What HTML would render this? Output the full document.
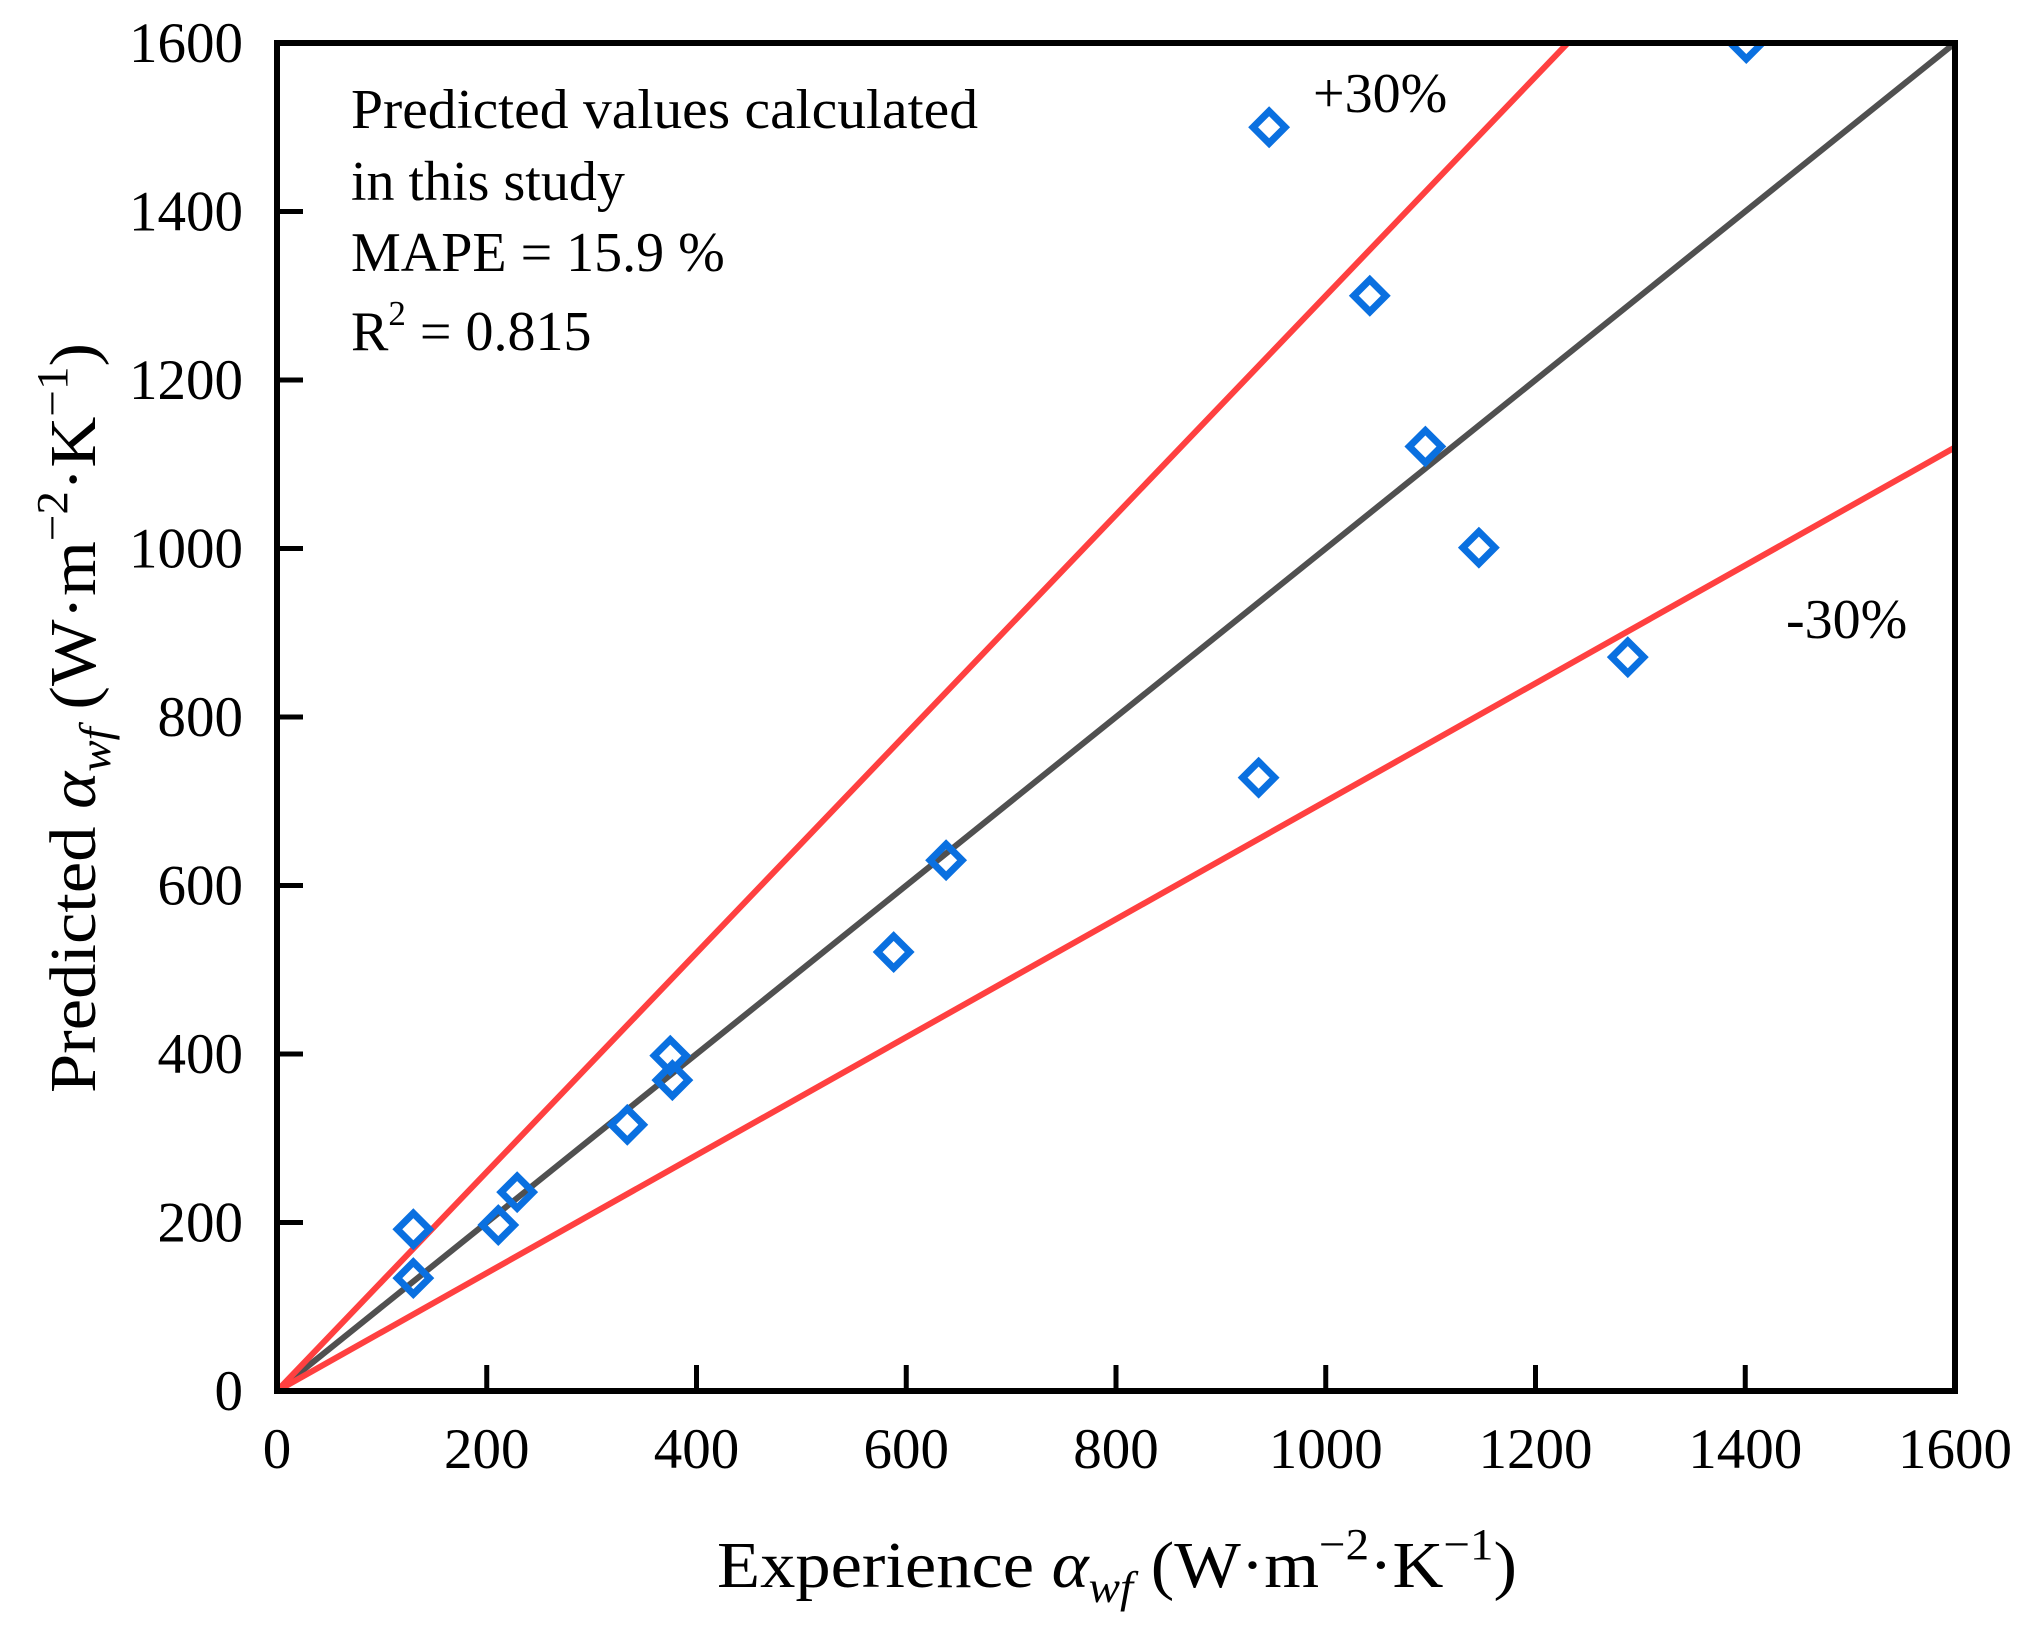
<!DOCTYPE html>
<html><head><meta charset="utf-8"><style>
html,body{margin:0;padding:0;background:#fff}
svg{display:block}
text{font-family:"Liberation Serif",serif;fill:#000}
</style></head><body>
<svg id="chart" width="2029" height="1633" viewBox="0 0 2029 1633" xmlns="http://www.w3.org/2000/svg">
<g id="lines"></g>
<g id="points"></g>
<g id="axes"></g>
<text x="351" y="128" font-size="56" textLength="627" lengthAdjust="spacingAndGlyphs">Predicted values calculated</text>
<text x="351" y="200" font-size="56">in this study</text>
<text x="351" y="271" font-size="56">MAPE = 15.9 %</text>
<text x="351" y="350" font-size="56">R<tspan font-size="35" dy="-25">2</tspan><tspan dy="25"> = 0.815</tspan></text>
<text x="1313" y="112" font-size="56">+30%</text>
<text x="1786" y="638" font-size="56">-30%</text>
<text x="717" y="1587" font-size="66" textLength="800" lengthAdjust="spacingAndGlyphs">Experience <tspan font-style="italic">α</tspan><tspan font-style="italic" font-size="44" dy="15">wf</tspan><tspan dy="-15"> (W·m</tspan><tspan font-size="44" dy="-28">−2</tspan><tspan dy="28">·K</tspan><tspan font-size="44" dy="-28">−1</tspan><tspan dy="28">)</tspan></text>
<text transform="translate(95,1093) rotate(-90)" font-size="66" textLength="750" lengthAdjust="spacingAndGlyphs">Predicted <tspan font-style="italic">α</tspan><tspan font-style="italic" font-size="44" dy="15">wf</tspan><tspan dy="-15"> (W·m</tspan><tspan font-size="44" dy="-28">−2</tspan><tspan dy="28">·K</tspan><tspan font-size="44" dy="-28">−1</tspan><tspan dy="28">)</tspan></text>
</svg>
<script>
const expValues = [130, 130, 211, 229, 334, 375, 377, 588, 638, 936, 946, 1042, 1095, 1146, 1288, 1401];
const predValues = [192, 134, 197, 236, 316, 398, 369, 521, 630, 728, 1500, 1300, 1121, 1001, 871, 1600];
const tickValues = [0, 200, 400, 600, 800, 1000, 1200, 1400, 1600];
const refLines = [1.0, 1.3, 0.7];
const L = 277, R = 1955, T = 43, B = 1391, MAX = 1600;
const sx = v => L + v / MAX * (R - L);
const sy = v => B - v / MAX * (B - T);
const NS = 'http://www.w3.org/2000/svg';
function mk(tag, attrs, parent) {
  const e = document.createElementNS(NS, tag);
  for (const k in attrs) e.setAttribute(k, attrs[k]);
  parent.appendChild(e);
  return e;
}
const gl = document.getElementById('lines');
refLines.forEach(f => {
  let x2 = MAX, y2 = MAX * f;
  if (y2 > MAX) { y2 = MAX; x2 = MAX / f; }
  const ln = mk('line', {x1: sx(0), y1: sy(0), x2: sx(x2), y2: sy(y2),
    stroke: f === 1 ? '#505050' : '#ff4040', 'stroke-width': 6}, gl);
  
  
});
const gp = document.getElementById('points');
const clip = mk('clipPath', {id: 'pc'}, gp);
mk('rect', {x: L, y: T, width: R - L, height: B - T}, clip);
gp.setAttribute('clip-path', 'url(#pc)');
expValues.forEach((xv, i) => {
  const cx = sx(xv), cy = sy(predValues[i]), r = 16;
  const p = mk('polygon', {points: `${cx},${cy - r} ${cx + r},${cy} ${cx},${cy + r} ${cx - r},${cy}`,
    fill: 'none', stroke: '#0a70e0', 'stroke-width': 7}, gp);
  
  
});
const ga = document.getElementById('axes');
const fr = mk('rect', {x: L, y: T, width: R - L, height: B - T, fill: 'none', stroke: '#000', 'stroke-width': 6}, ga);


tickValues.forEach(v => {
  mk('line', {x1: sx(v), y1: B, x2: sx(v), y2: B - 26, stroke: '#000', 'stroke-width': 5}, ga);
  mk('line', {x1: L, y1: sy(v), x2: L + 26, y2: sy(v), stroke: '#000', 'stroke-width': 5}, ga);
  const xt = mk('text', {x: sx(v), y: 1468, 'text-anchor': 'middle', 'font-size': 57}, ga);
  xt.textContent = v;
  
  
  const yt = mk('text', {x: 243, y: sy(v) + 19, 'text-anchor': 'end', 'font-size': 57}, ga);
  yt.textContent = v;
  
  
});
</script>
</body></html>
